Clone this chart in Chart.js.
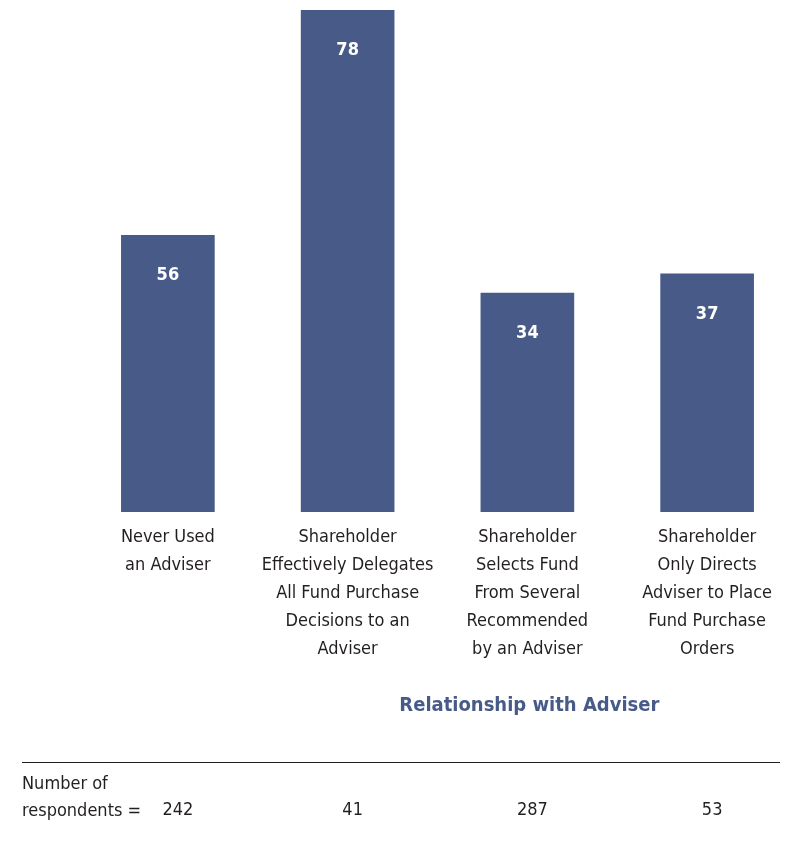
<!DOCTYPE html>
<html>
<head>
<meta charset="utf-8">
<script src="https://cdn.jsdelivr.net/npm/chart.js@4.4.1/dist/chart.umd.min.js"></script>
<style>
  html, body { margin: 0; padding: 0; background: #fff; }
  #wrap { width: 799px; height: 854px; position: relative; }
</style>
</head>
<body>
<div id="wrap"><canvas id="chart" width="799" height="854"></canvas></div>
<script>
// categories (multi-line axis labels)
const categories = [
    ['Never Used', 'an Adviser'],
    ['Shareholder', 'Effectively Delegates', 'All Fund Purchase', 'Decisions to an', 'Adviser'],
    ['Shareholder', 'Selects Fund', 'From Several', 'Recommended', 'by an Adviser'],
    ['Shareholder', 'Only Directs', 'Adviser to Place', 'Fund Purchase', 'Orders']
];
// printed values on the bars
const valueLabels = ['56', '78', '34', '37'];
// bar heights as drawn in the picture (first bar is drawn shorter than its label)
const barHeights = [43, 78, 34, 37];
const respondents = [242, 41, 287, 53];
const axisTitle = 'Relationship with Adviser';

const FONT = "'Liberation Sans Narrow', 'DejaVu Sans Condensed', 'Arial Narrow', sans-serif";
const BLUE = '#485b88';
const TEXT = '#231f20';

const extras = {
    id: 'extras',
    afterDatasetsDraw(chart) {
        const ctx = chart.ctx;
        const x = chart.scales.x;
        const meta = chart.getDatasetMeta(0);
        ctx.save();

        // value labels inside bars
        ctx.fillStyle = '#ffffff';
        ctx.font = 'bold 18px ' + FONT;
        ctx.textAlign = 'center';
        ctx.textBaseline = 'middle';
        meta.data.forEach((bar, i) => {
            ctx.fillText(valueLabels[i], bar.x, bar.y + 40);
        });

        // title, centred under the adviser-related bars
        ctx.fillStyle = BLUE;
        ctx.font = 'bold 20px ' + FONT;
        const tx = (x.getPixelForValue(1) + x.getPixelForValue(3)) / 2 + 2;
        ctx.fillText(axisTitle, tx, 706);

        // rule
        ctx.strokeStyle = '#231f20';
        ctx.lineWidth = 1;
        ctx.beginPath();
        ctx.moveTo(22, 762.5);
        ctx.lineTo(780, 762.5);
        ctx.stroke();

        // respondents row
        ctx.fillStyle = TEXT;
        ctx.font = '18px ' + FONT;
        ctx.textAlign = 'left';
        ctx.fillText('Number of', 22, 784);
        ctx.fillText('respondents =', 22, 811);
        ctx.textAlign = 'center';
        respondents.forEach((n, i) => {
            const shift = i === 0 ? 10 : 5;
            ctx.fillText(String(n), x.getPixelForValue(i) + shift, 810);
        });
        ctx.restore();
    }
};

const ctx = document.getElementById('chart').getContext('2d');
new Chart(ctx, {
    type: 'bar',
    data: {
        labels: categories,
        datasets: [{
            data: barHeights,
            backgroundColor: BLUE,
            borderWidth: 0,
            barThickness: 93
        }]
    },
    options: {
        responsive: false,
        animation: false,
        layout: { padding: { left: 78, right: 2, top: 10, bottom: 0 } },
        plugins: {
            legend: { display: false },
            tooltip: { enabled: false }
        },
        scales: {
            y: {
                display: false,
                min: 0,
                max: 78
            },
            x: {
                grid: { display: false },
                border: { display: false },
                afterFit(scale) { scale.height = 342; },
                ticks: {
                    color: TEXT,
                    font: { family: FONT, size: 18, lineHeight: 1.556 },
                    padding: 3,
                    maxRotation: 0,
                    autoSkip: false
                }
            }
        }
    },
    plugins: [extras]
});
</script>
</body>
</html>
